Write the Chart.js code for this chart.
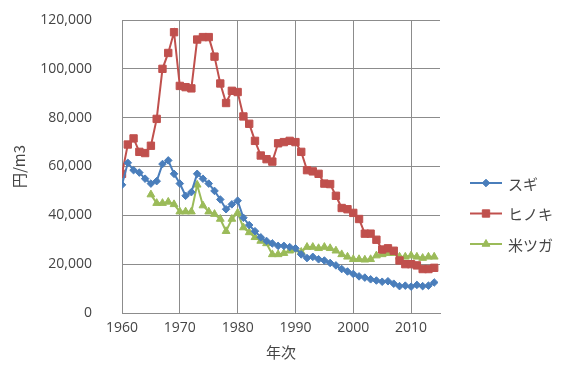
<!DOCTYPE html>
<html lang="ja">
<head>
<meta charset="utf-8">
<script src="https://cdn.jsdelivr.net/npm/chart.js@4/dist/chart.umd.min.js"></script>
<style>
  html, body { margin: 0; padding: 0; background: #fff; }
  #chart { display: block; }
</style>
</head>
<body>
<canvas id="chart" width="562" height="370"></canvas>
<script>
// 木材価格の推移（円/m3）— スギ・ヒノキ・米ツガ
const years = [
  1960, 1961, 1962, 1963, 1964, 1965, 1966, 1967, 1968, 1969,
  1970, 1971, 1972, 1973, 1974, 1975, 1976, 1977, 1978, 1979,
  1980, 1981, 1982, 1983, 1984, 1985, 1986, 1987, 1988, 1989,
  1990, 1991, 1992, 1993, 1994, 1995, 1996, 1997, 1998, 1999,
  2000, 2001, 2002, 2003, 2004, 2005, 2006, 2007, 2008, 2009,
  2010, 2011, 2012, 2013, 2014,
];
const sugi = [
  52500, 61500, 58500, 57500, 55000, 53000, 54000, 61000, 62500, 57000,
  53000, 48000, 49500, 57000, 55000, 53000, 50000, 46500, 42500, 44500,
  46000, 39000, 36000, 33500, 31000, 29500, 28500, 27500, 27500, 27000,
  26500, 24000, 22500, 23000, 22000, 21500, 20500, 19500, 18000, 17000,
  16000, 15000, 14500, 13800, 13300, 12800, 13000, 12000, 11000, 11200,
  10800, 11500, 11000, 11200, 12500,
];
const hinoki = [
  57000, 69000, 71500, 66000, 65500, 68500, 79500, 100000, 106500, 115000,
  93000, 92500, 92000, 112000, 113000, 113000, 105000, 94000, 86000, 91000,
  90500, 80500, 77500, 70500, 64500, 63000, 62000, 69500, 70000, 70500,
  70000, 66000, 58500, 58000, 57000, 53000, 52800, 48000, 43000, 42500,
  41000, 38500, 32500, 32500, 30000, 26000, 26500, 25500, 21500, 20000,
  20000, 19500, 18000, 18000, 18500,
];
const beitsuga = [
  null, null, null, null, null, 48500, 45000, 45000, 45500, 44500,
  41500, 41500, 41500, 52500, 44000, 41500, 40500, 38500, 33500, 38500,
  41000, 35000, 33000, 31000, 29500, 28500, 24000, 24000, 24500, 25500,
  26000, 25000, 27000, 27000, 26500, 27000, 26500, 25500, 24000, 23000,
  22000, 22000, 21800, 22000, 23500, 24000, 24500, 24500, 23000, 23000,
  23500, 23000, 22500, 23000, 23000,
];
const seriesNames = ['スギ', 'ヒノキ', '米ツガ'];
const yTicks = [0, 20000, 40000, 60000, 80000, 100000, 120000];
const xTicks = [1960, 1970, 1980, 1990, 2000, 2010];

const FONT = "'Open Sans', 'Noto Sans CJK JP', sans-serif";
const JP_FONT = "'Noto Sans CJK JP', 'Open Sans', sans-serif";
const GRID = '#8c8c8c';
const INK = '#454545';

const toPoints = (vals) => years.map((yr, i) => ({ x: yr, y: vals[i] }));

const series = [
  { label: seriesNames[0], data: toPoints(sugi), color: '#4a7ebb', style: 'rectRot', radius: 3.8 },
  { label: seriesNames[1], data: toPoints(hinoki), color: '#c0504d', style: 'rect', radius: 5.2 },
  { label: seriesNames[2], data: toPoints(beitsuga), color: '#9bbb59', style: 'triangle', radius: 4.5 },
];

// Excel-style legend at the right: short line with the marker on it, then the name
const sideLegend = {
  id: 'sideLegend',
  afterDraw(chart, args, opts) {
    const { ctx } = chart;
    ctx.save();
    chart.data.datasets.forEach((ds, i) => {
      const y = opts.top + i * opts.step;
      ctx.strokeStyle = ds.borderColor;
      ctx.lineWidth = 2;
      ctx.beginPath();
      ctx.moveTo(opts.lineX0, y);
      ctx.lineTo(opts.lineX1, y);
      ctx.stroke();
      ctx.fillStyle = ds.pointBackgroundColor;
      ctx.strokeStyle = ds.pointBorderColor;
      ctx.lineWidth = 1;
      Chart.helpers.drawPoint(ctx, { pointStyle: ds.pointStyle, radius: ds.pointRadius, rotation: 0, borderWidth: 1 },
        (opts.lineX0 + opts.lineX1) / 2, y);
      ctx.fillStyle = INK;
      ctx.font = `15px ${JP_FONT}`;
      ctx.textBaseline = 'middle';
      ctx.textAlign = 'left';
      ctx.fillText(ds.label, opts.textX, y + 1);
    });
    ctx.restore();
  },
};

new Chart(document.getElementById('chart'), {
  type: 'line',
  data: {
    datasets: series.map((s) => ({
      label: s.label,
      data: s.data,
      borderColor: s.color,
      backgroundColor: s.color,
      pointBackgroundColor: s.color,
      pointBorderColor: s.color,
      pointStyle: s.style,
      pointRadius: s.radius,
      pointBorderWidth: 1,
      borderWidth: 2,
      tension: 0,
      spanGaps: false,
    })),
  },
  options: {
    responsive: false,
    animation: false,
    layout: { padding: { top: 20, right: 122, bottom: 0, left: 0 } },
    plugins: {
      legend: { display: false },
      tooltip: { enabled: false },
      sideLegend: { top: 183, step: 30.5, lineX0: 470, lineX1: 502, textX: 508 },
    },
    scales: {
      x: {
        type: 'linear',
        min: 1960,
        max: 2015,
        afterBuildTicks: (axis) => { axis.ticks = xTicks.map((v) => ({ value: v })); },
        afterFit: (axis) => { axis.height = 57; },
        ticks: { color: INK, padding: 7, font: { family: FONT, size: 14 }, callback: (v) => String(v) },
        grid: { color: GRID, lineWidth: 1, drawTicks: false },
        border: { color: GRID, width: 1 },
        title: { display: true, text: '年次', color: INK, font: { family: JP_FONT, size: 15 }, padding: { top: 0, bottom: 9 } },
      },
      y: {
        min: 0,
        max: 120000,
        afterBuildTicks: (axis) => { axis.ticks = yTicks.map((v) => ({ value: v })); },
        afterFit: (axis) => { axis.width = 122; },
        ticks: { color: INK, padding: 2, font: { family: FONT, size: 14 }, callback: (v) => v.toLocaleString('en-US') },
        grid: { color: GRID, lineWidth: 1, drawTicks: true, tickLength: 28, tickColor: 'rgba(0,0,0,0)' },
        border: { color: GRID, width: 1 },
        title: { display: true, text: '円/m3', color: INK, font: { family: JP_FONT, size: 15 }, padding: { top: 10, bottom: 0 } },
      },
    },
  },
  plugins: [sideLegend],
});
</script>
</body>
</html>
